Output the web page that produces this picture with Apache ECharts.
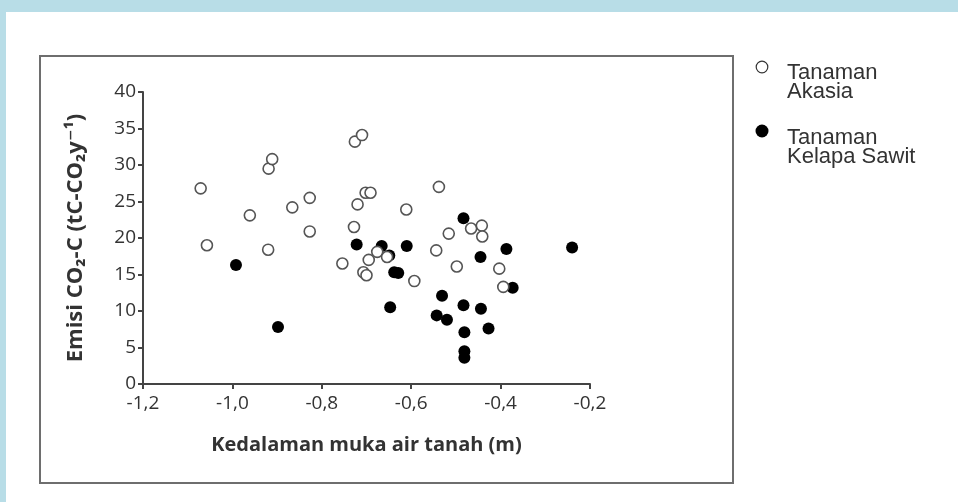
<!DOCTYPE html>
<html>
<head>
<meta charset="utf-8">
<script src="https://cdn.jsdelivr.net/npm/echarts@6/dist/echarts.min.js"></script>
<style>
html,body{margin:0;padding:0;background:#fff;}
#chart{width:958px;height:502px;}
</style>
</head>
<body>
<div id="chart"></div>
<script>
// Tanaman Akasia: [kedalaman muka air tanah (m), emisi]
var akasiaData = [
  [-1.071, 26.8], [-1.057, 19.0], [-0.961, 23.1], [-0.920, 18.4], [-0.919, 29.5],
  [-0.911, 30.8], [-0.866, 24.2], [-0.827, 25.5], [-0.827, 20.9], [-0.754, 16.5],
  [-0.728, 21.5], [-0.726, 33.2], [-0.720, 24.6], [-0.710, 34.1], [-0.702, 26.2],
  [-0.691, 26.2], [-0.707, 15.3], [-0.700, 14.9], [-0.695, 17.0], [-0.676, 18.1],
  [-0.654, 17.4], [-0.611, 23.9], [-0.593, 14.1], [-0.544, 18.3], [-0.538, 27.0],
  [-0.516, 20.6], [-0.498, 16.1], [-0.466, 21.3], [-0.442, 21.7], [-0.441, 20.2],
  [-0.403, 15.8], [-0.394, 13.3]
];
// Tanaman Kelapa Sawit
var sawitData = [
  [-0.992, 16.3], [-0.898, 7.8], [-0.722, 19.1], [-0.666, 18.9], [-0.649, 17.6],
  [-0.610, 18.9], [-0.638, 15.3], [-0.629, 15.2], [-0.647, 10.5], [-0.483, 22.7],
  [-0.445, 17.4], [-0.387, 18.5], [-0.240, 18.7], [-0.373, 13.2], [-0.531, 12.1],
  [-0.483, 10.8], [-0.444, 10.3], [-0.543, 9.4], [-0.520, 8.8], [-0.481, 7.1],
  [-0.427, 7.6], [-0.481, 4.5], [-0.481, 3.6]
];
var seriesNames = ['Tanaman Akasia', 'Tanaman Kelapa Sawit'];
var legendLines = [['Tanaman', 'Akasia'], ['Tanaman', 'Kelapa Sawit']];
var xTitle = 'Kedalaman muka air tanah (m)';
var yTitle = 'Emisi CO\u2082-C (tC-CO\u2082y\u207B\u00B9)';

var chart = echarts.init(document.getElementById('chart'), null, {renderer: 'canvas'});
var axisFont = '"Open Sans", "DejaVu Sans", sans-serif';
var legendFont = '"Liberation Sans", Arial, sans-serif';

var option = {
  backgroundColor: '#ffffff',
  animation: false,
  graphic: [
    {type: 'rect', shape: {x: 0, y: 0, width: 958, height: 12}, style: {fill: '#b8dde7'}, z: 0},
    {type: 'rect', shape: {x: 0, y: 0, width: 6, height: 502}, style: {fill: '#b8dde7'}, z: 0},
    {type: 'rect', shape: {x: 40, y: 56, width: 693, height: 427}, style: {fill: 'none', stroke: '#6e6e6e', lineWidth: 2}, z: 0},
    {type: 'circle', shape: {cx: 762, cy: 67, r: 5.8}, style: {fill: '#fff', stroke: '#333', lineWidth: 1.2}},
    {type: 'text', left: 787, top: 62, style: {text: legendLines[0].join('\n'), font: '22px ' + legendFont, fill: '#333', lineHeight: 19}},
    {type: 'circle', shape: {cx: 762, cy: 131, r: 6.5}, style: {fill: '#000'}},
    {type: 'text', left: 787, top: 127, style: {text: legendLines[1].join('\n'), font: '22px ' + legendFont, fill: '#333', lineHeight: 19}}
  ],
  grid: {left: 143, right: 368, top: 92, bottom: 118, containLabel: false},
  xAxis: {
    type: 'value', min: -1.2, max: -0.2, interval: 0.2,
    name: xTitle, nameLocation: 'middle', nameGap: 51,
    nameTextStyle: {fontFamily: axisFont, fontSize: 20, fontWeight: 'bold', color: '#333'},
    axisLine: {show: true, onZero: false, lineStyle: {color: '#444', width: 2}},
    axisTick: {show: true, inside: false, length: 5, lineStyle: {color: '#444', width: 2}},
    axisLabel: {margin: 10, fontFamily: axisFont, fontSize: 19, color: '#333',
      formatter: function (v) { return v.toFixed(1).replace('.', ','); }},
    splitLine: {show: false}
  },
  yAxis: {
    type: 'value', min: 0, max: 40, interval: 5,
    name: yTitle, nameLocation: 'middle', nameGap: 56, nameRotate: 90,
    nameTextStyle: {fontFamily: axisFont, fontSize: 22, fontWeight: 'bold', color: '#333'},
    axisLine: {show: true, onZero: false, lineStyle: {color: '#444', width: 2}},
    axisTick: {show: true, inside: false, length: 5, lineStyle: {color: '#444', width: 2}},
    axisLabel: {margin: 7, fontFamily: axisFont, fontSize: 19, color: '#333'},
    splitLine: {show: false}
  },
  series: [
    {
      name: seriesNames[1], type: 'scatter', data: sawitData,
      symbol: 'circle', symbolSize: 12,
      itemStyle: {color: '#000', opacity: 1},
      z: 2
    },
    {
      name: seriesNames[0], type: 'scatter', data: akasiaData,
      symbol: 'circle', symbolSize: 11,
      itemStyle: {color: '#fff', borderColor: '#555', borderWidth: 1.6, opacity: 1},
      z: 3
    }
  ]
};
chart.setOption(option);
</script>
</body>
</html>
